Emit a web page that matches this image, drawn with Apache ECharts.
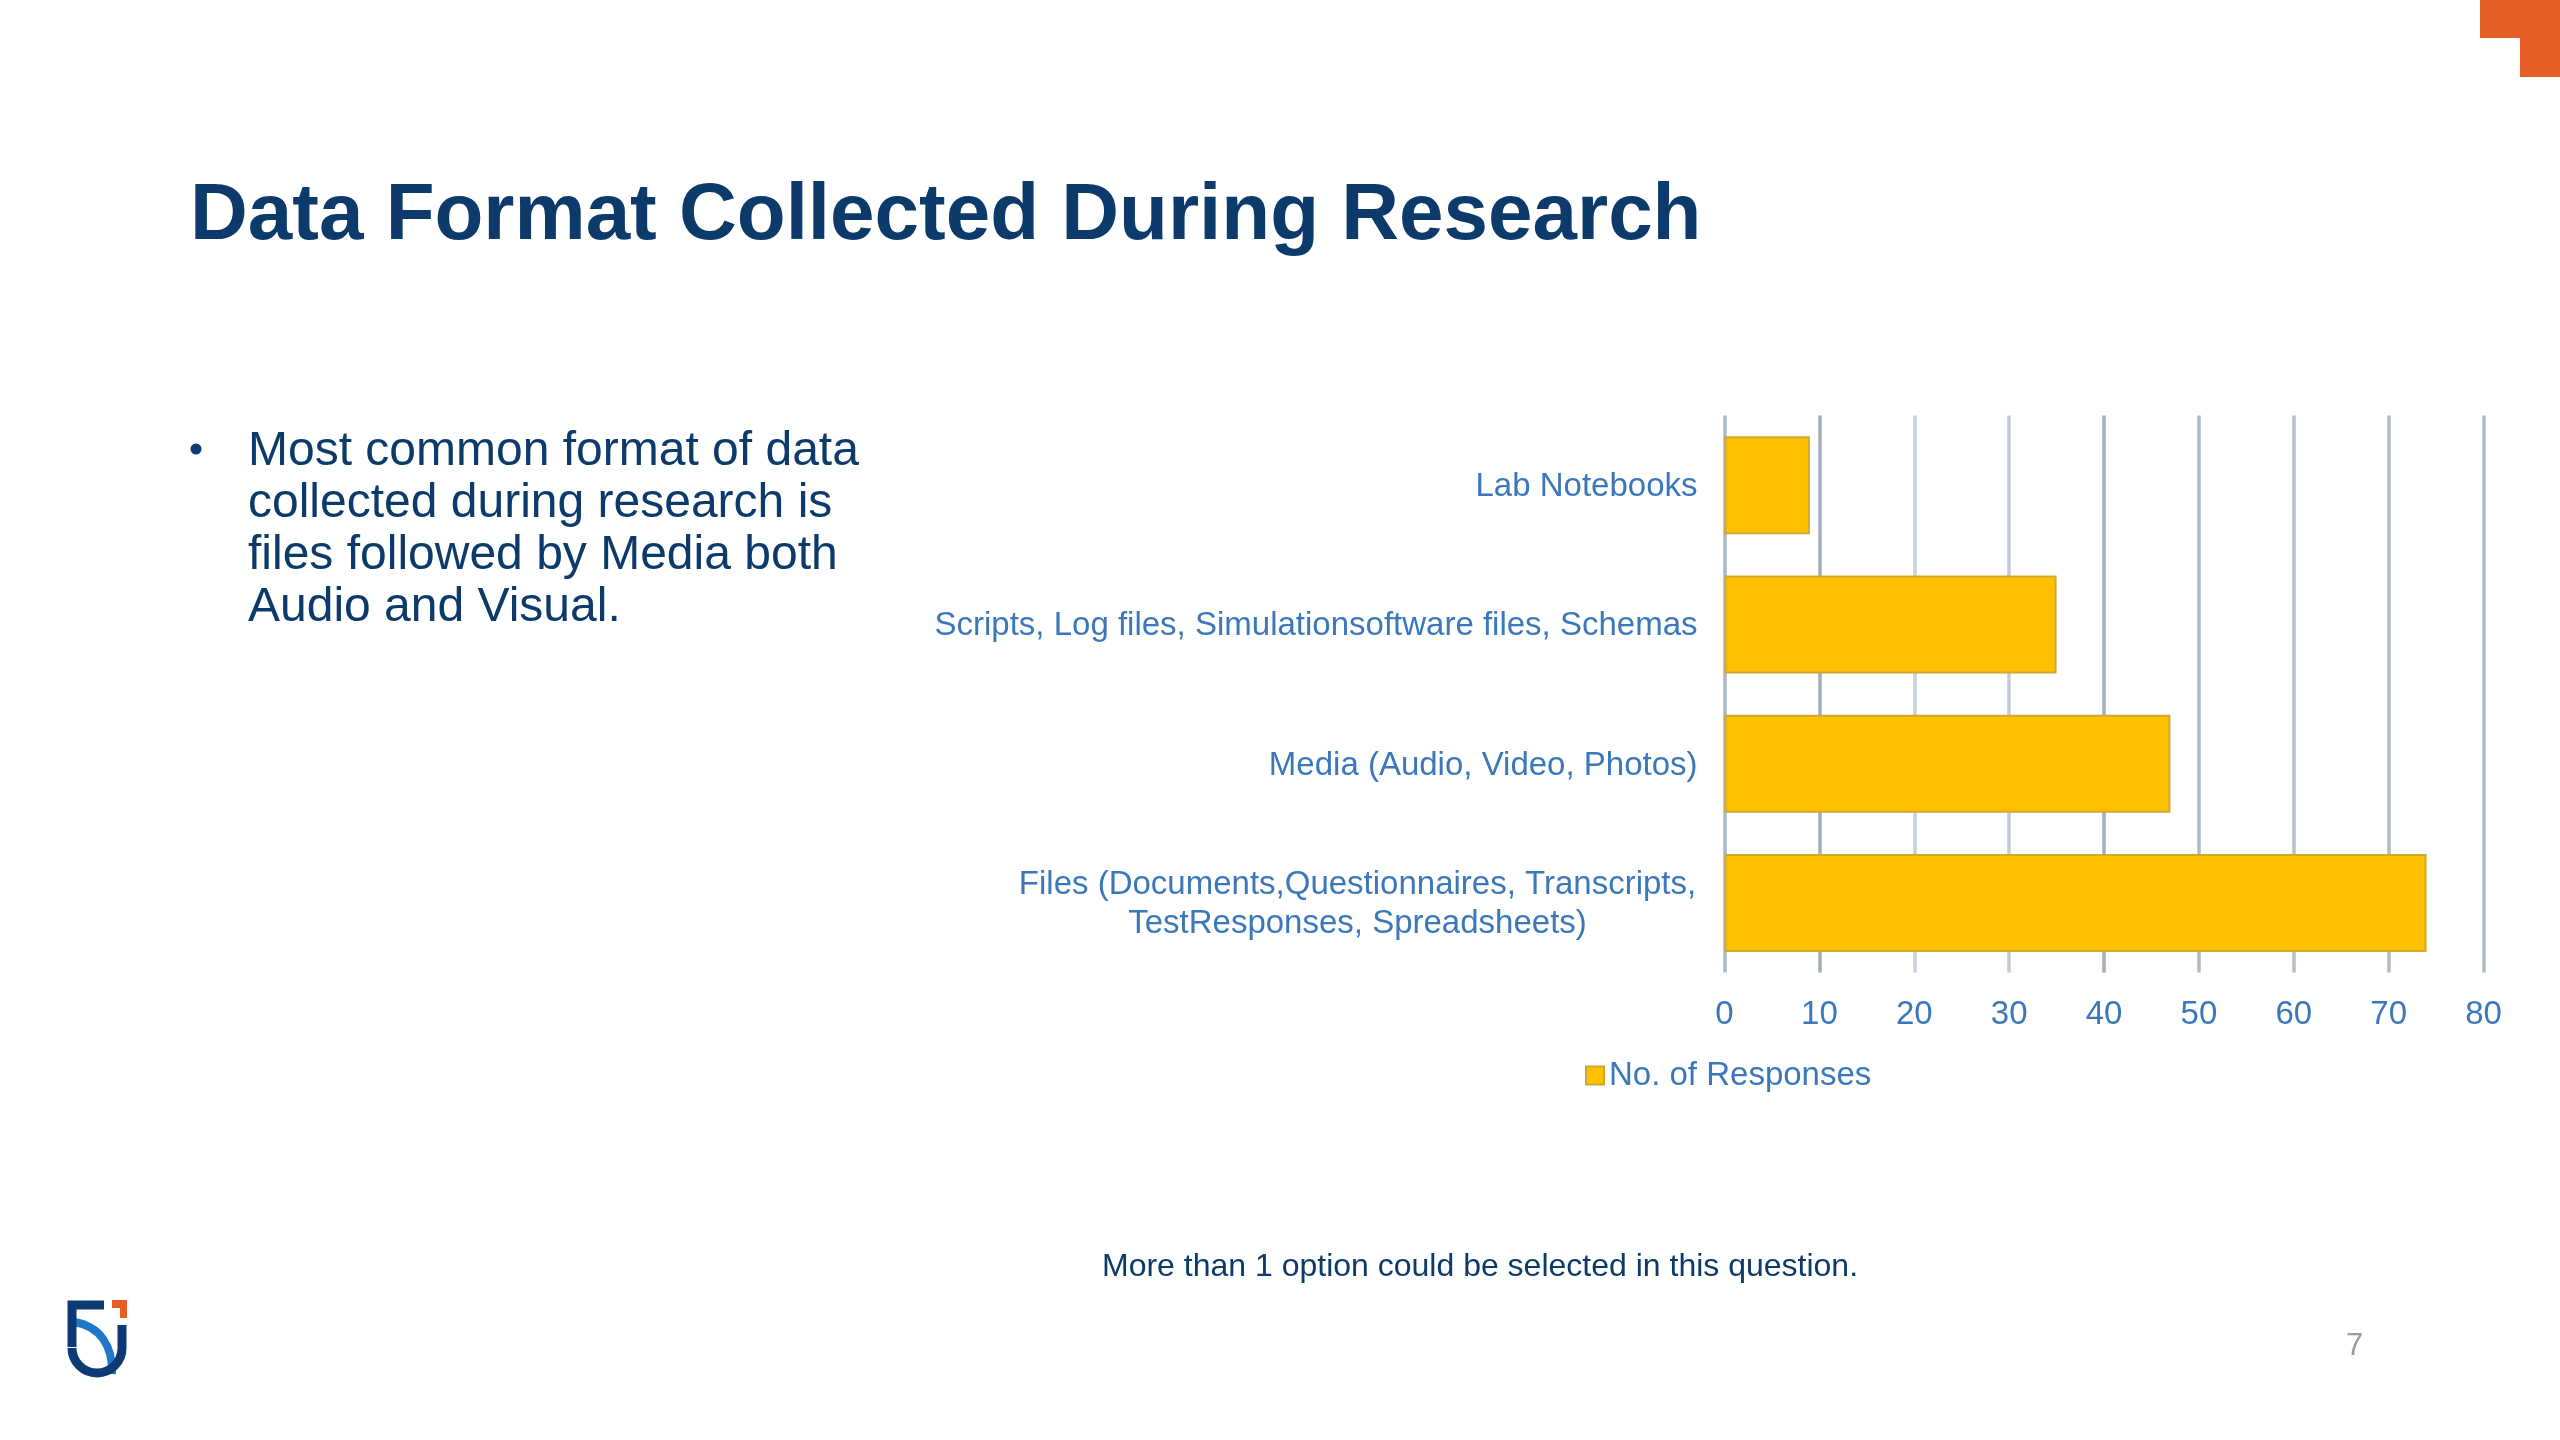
<!DOCTYPE html>
<html>
<head>
<meta charset="utf-8">
<title>Data Format Collected During Research</title>
<style>
  html, body { margin: 0; padding: 0; background: #fff; }
  #main { width: 2560px; height: 1440px; }
</style>
<script src="https://cdn.jsdelivr.net/npm/echarts@6/dist/echarts.min.js"></script>
</head>
<body>
<div id="main"></div>
<script>
// bottom to top, same order as the category axis
var categories = [
  'Files (Documents,Questionnaires, Transcripts,\nTestResponses, Spreadsheets)',
  'Media (Audio, Video, Photos)',
  'Scripts, Log files, Simulationsoftware files, Schemas',
  'Lab Notebooks'
];
var responses = [74, 47, 35, 9];
var seriesName = 'No. of Responses';
var titleText = 'Data Format Collected During Research';
var bulletLines = [
  'Most common format of data',
  'collected during research is',
  'files followed by Media both',
  'Audio and Visual.'
];
var noteText = 'More than 1 option could be selected in this question.';
var pageNumber = '7';
// grid lines are not all the same shade in the slide
var gridColors = ['#a9b9cb', '#a3aeba', '#c3d1e0', '#c0ccd8', '#a3aeba', '#afbac6', '#b3bfcb', '#afbac6', '#afbac6'];

var font = '"Liberation Sans", Arial, sans-serif';
var navy = '#0c3a6b';
var labelBlue = '#3b78bb';

var chart = echarts.init(document.getElementById('main'));

var bulletText = bulletLines.map(function (line, i) {
  return {
    type: 'text',
    left: 248,
    top: 428 + i * 51.8,
    style: { text: line, font: '48px ' + font, fill: navy }
  };
});

var option = {
  backgroundColor: '#fff',
  animation: false,
  textStyle: { fontFamily: font },
  title: {
    text: titleText,
    left: 185,
    top: 172,
    textStyle: { color: navy, fontSize: 80, fontWeight: 'bold', fontFamily: font }
  },
  legend: {
    left: 1580,
    top: 1054,
    itemWidth: 18,
    itemHeight: 18,
    icon: 'rect',
    textStyle: { color: labelBlue, fontSize: 33, fontFamily: font },
    data: [seriesName]
  },
  grid: { left: 1724.5, top: 415.5, width: 759, height: 557 },
  xAxis: {
    type: 'value',
    min: 0,
    max: 80,
    interval: 10,
    axisLine: { show: false },
    axisTick: { show: false },
    axisLabel: { color: labelBlue, fontSize: 33, margin: 26 },
    splitLine: { show: true, lineStyle: { color: gridColors, width: 3.5 } }
  },
  yAxis: {
    type: 'category',
    data: categories,
    axisLine: { show: false },
    axisTick: { show: false },
    axisLabel: {
      color: labelBlue,
      fontSize: 33,
      margin: 27,
      lineHeight: 39,
      padding: [4, 0, 0, 0],
      formatter: function (value) {
        if (value.indexOf('\n') < 0) return value;
        return value.split('\n').map(function (l) { return '{block|' + l + '}'; }).join('\n');
      },
      rich: { block: { width: 680, align: 'center', fontSize: 33, lineHeight: 39, color: labelBlue } }
    }
  },
  series: [{
    name: seriesName,
    type: 'bar',
    data: responses,
    barWidth: 98,
    itemStyle: { color: '#ffc000', borderColor: '#cfa92f', borderWidth: 2 }
  }],
  graphic: bulletText.concat([
    { type: 'circle', shape: { cx: 196, cy: 449, r: 5.5 }, style: { fill: navy } },
    {
      type: 'text', left: 1102, top: 1251,
      style: { text: noteText, font: '32px ' + font, fill: navy }
    },
    {
      type: 'text', left: 2346, top: 1331,
      style: { text: pageNumber, font: '31px ' + font, fill: '#9c9c9c' }
    },
    // corner decoration
    {
      type: 'polygon',
      shape: { points: [[2480, 0], [2560, 0], [2560, 77], [2520, 77], [2520, 38], [2480, 38]] },
      style: { fill: '#e55e28' }
    },
    // logo
    {
      type: 'bezierCurve',
      shape: { x1: 74, y1: 1322, cpx1: 100, cpy1: 1326, cpx2: 113, cpy2: 1346, x2: 112, y2: 1374 },
      style: { stroke: '#1f78c8', lineWidth: 8, fill: null }
    },
    {
      type: 'polyline',
      shape: { points: [[104, 1305], [72, 1305], [72, 1347]] },
      style: { stroke: '#0b3a75', lineWidth: 9, fill: null }
    },
    {
      type: 'arc',
      shape: { cx: 97, cy: 1348, r: 25, startAngle: 0, endAngle: Math.PI, clockwise: true },
      style: { stroke: '#0b3a75', lineWidth: 9, fill: null }
    },
    {
      type: 'polyline',
      shape: { points: [[122, 1348], [122, 1325]] },
      style: { stroke: '#0b3a75', lineWidth: 9, fill: null }
    },
    {
      type: 'polygon',
      shape: { points: [[112, 1300], [127, 1300], [127, 1318], [120, 1318], [120, 1308], [112, 1308]] },
      style: { fill: '#e55e28' }
    }
  ])
};

chart.setOption(option);
</script>
</body>
</html>
